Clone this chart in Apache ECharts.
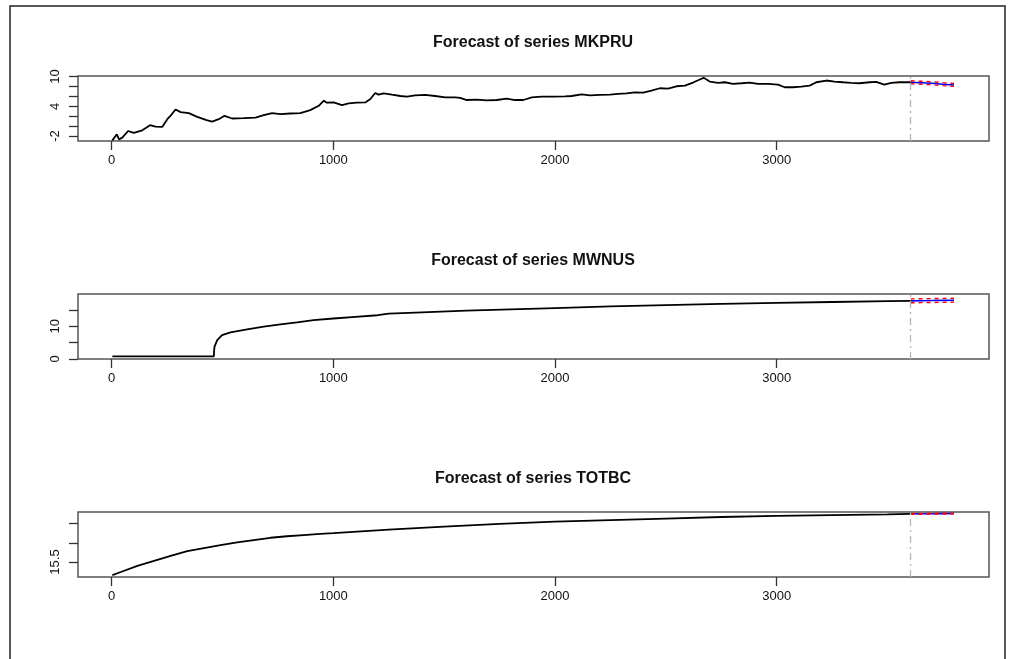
<!DOCTYPE html>
<html>
<head>
<meta charset="utf-8">
<script src="https://cdn.jsdelivr.net/npm/echarts@6/dist/echarts.min.js"></script>
<style>html,body{margin:0;padding:0;background:#fff}#c{width:1014px;height:659px}</style>
</head>
<body>
<div id="c"></div>
<script>
// ---- data ----
const titles = ["Forecast of series MKPRU", "Forecast of series MWNUS", "Forecast of series TOTBC"];
const xTicks = [0, 1000, 2000, 3000];

const mkpruIdx = [3,12,23,33,48,74,100,138,173,198,228,251,269,288,311,348,386,428,453,483,509,543,596,649,686,724,761,806,851,896,934,957,971,1001,1039,1069,1107,1144,1167,1189,1204,1227,1264,1302,1332,1369,1414,1459,1505,1550,1572,1602,1647,1692,1737,1782,1820,1857,1895,1940,1992,2045,2075,2120,2158,2203,2248,2285,2323,2360,2398,2435,2473,2510,2548,2586,2623,2653,2671,2698,2736,2766,2803,2841,2878,2916,2961,3006,3036,3073,3111,3149,3179,3224,3261,3299,3336,3374,3419,3449,3486,3517,3554,3604];
const mkpruVal = [-2.87,-2.6,-1.65,-2.67,-2.33,-0.98,-1.38,-0.84,0.18,-0.10,-0.16,1.40,2.28,3.36,2.82,2.62,1.87,1.20,0.91,1.40,2.07,1.53,1.60,1.73,2.21,2.62,2.42,2.54,2.60,3.23,4.10,5.12,4.72,4.78,4.25,4.58,4.72,4.78,5.46,6.68,6.34,6.61,6.34,6.07,5.93,6.20,6.28,6.07,5.80,5.80,5.67,5.26,5.33,5.18,5.26,5.53,5.26,5.26,5.80,5.93,5.93,6.00,6.07,6.41,6.20,6.28,6.34,6.48,6.61,6.81,6.75,7.15,7.63,7.56,8.03,8.17,8.78,9.39,9.73,8.98,8.72,8.84,8.52,8.64,8.78,8.52,8.52,8.37,7.83,7.83,7.97,8.17,8.84,9.19,8.98,8.84,8.72,8.64,8.84,8.92,8.37,8.72,8.84,8.84];

const mwnusIdx = [3,461,462,464,476,498,536,611,686,761,836,911,1000,1100,1200,1250,1400,1600,1800,2000,2250,2500,2750,3000,3250,3500,3604];
const mwnusVal = [0.82,0.82,2.5,3.77,5.8,7.3,8.15,9.07,9.9,10.6,11.2,11.9,12.4,12.9,13.4,13.9,14.3,14.8,15.2,15.6,16.1,16.5,16.9,17.2,17.45,17.7,17.8];

const totbcIdx = [3,41,116,191,266,341,416,491,566,641,716,791,866,941,1000,1250,1500,1750,2000,2250,2500,2750,3000,3250,3500,3604];
const totbcVal = [15.16,15.24,15.40,15.53,15.66,15.78,15.86,15.94,16.01,16.07,16.13,16.17,16.20,16.23,16.25,16.34,16.42,16.49,16.55,16.59,16.63,16.67,16.70,16.72,16.74,16.75];

const fcIdx = [3604, 3650, 3700, 3750, 3800];
const fc1 = [8.84, 8.75, 8.65, 8.45, 8.30];
const lo1 = [8.54, 8.45, 8.35, 8.15, 8.00];
const hi1 = [9.14, 9.05, 8.95, 8.75, 8.60];
const fc2 = [17.80, 17.85, 17.90, 17.95, 18.00];
const lo2 = [17.20, 17.25, 17.30, 17.35, 17.40];
const hi2 = [18.40, 18.45, 18.50, 18.55, 18.60];
const fc3 = [16.750, 16.753, 16.756, 16.758, 16.760];
const lo3 = [16.740, 16.743, 16.746, 16.748, 16.750];
const hi3 = [16.760, 16.763, 16.766, 16.768, 16.770];

const yRanges = [[-3.0, 10.1], [0, 19.9], [15.11, 16.80]];
const yTickVals = [[-2, 0, 2, 4, 6, 8, 10], [0, 5, 10, 15], [15.5, 16, 16.5]];
const yLabelVals = [[-2, 4, 10], [0, 10], [15.5]];
const lastIdx = 3604;

// ---- chart ----
const pair = (xs, ys) => xs.map((x, i) => [x, ys[i]]);
const gridTops = [76, 294, 512];
const titleTops = [35, 253, 471];
const FONT = "Liberation Sans, Arial, sans-serif";

const grids = gridTops.map(t => ({
  left: 78, right: 25, top: t, height: 65,
  show: true, borderColor: '#555', borderWidth: 1.5, backgroundColor: 'transparent'
}));
const xAxes = gridTops.map((t, i) => ({
  type: 'value', gridIndex: i, min: -152, max: 3958, position: 'bottom',
  axisLine: { show: false, onZero: false },
  splitLine: { show: false },
  axisTick: { show: true, inside: false, customValues: xTicks, length: 9, lineStyle: { color: '#333', width: 1.3 } },
  axisLabel: { customValues: xTicks, margin: 13, fontSize: 13, color: '#111', fontFamily: FONT,
    formatter: v => String(v) }
}));
const yAxes = gridTops.map((t, i) => ({
  type: 'value', gridIndex: i, min: yRanges[i][0], max: yRanges[i][1], position: 'left',
  axisLine: { show: false, onZero: false },
  splitLine: { show: false },
  axisTick: { show: true, inside: false, customValues: yTickVals[i], length: 9, lineStyle: { color: '#333', width: 1.3 } },
  axisLabel: { customValues: yLabelVals[i], rotate: 90, margin: 16, fontSize: 13, color: '#111', fontFamily: FONT,
    formatter: v => String(v) }
}));

const mains = [pair(mkpruIdx, mkpruVal), pair(mwnusIdx, mwnusVal), pair(totbcIdx, totbcVal)];
const fcs = [fc1, fc2, fc3], los = [lo1, lo2, lo3], his = [hi1, hi2, hi3];
const series = [];
for (let i = 0; i < 3; i++) {
  series.push({
    type: 'line', xAxisIndex: i, yAxisIndex: i, data: mains[i], showSymbol: false,
    lineStyle: { color: '#000', width: 1.8 }, animation: false,
    markLine: {
      silent: true, symbol: 'none', label: { show: false },
      lineStyle: { color: '#b5b5b5', width: 1.3, type: [7, 4, 2, 4] },
      data: [{ xAxis: lastIdx }]
    }
  });
  series.push({
    type: 'line', xAxisIndex: i, yAxisIndex: i, data: pair(fcIdx, fcs[i]), showSymbol: false,
    lineStyle: { color: '#0000ff', width: 1.6 }, animation: false
  });
  series.push({
    type: 'line', xAxisIndex: i, yAxisIndex: i, data: pair(fcIdx, los[i]), showSymbol: false,
    lineStyle: { color: '#ff0000', width: 1.4, type: [4, 4] }, animation: false
  });
  series.push({
    type: 'line', xAxisIndex: i, yAxisIndex: i, data: pair(fcIdx, his[i]), showSymbol: false,
    lineStyle: { color: '#ff0000', width: 1.4, type: [4, 4] }, animation: false
  });
}

const chart = echarts.init(document.getElementById('c'), null, { renderer: 'canvas' });
chart.setOption({
  backgroundColor: '#fff',
  animation: false,
  title: titles.map((t, i) => ({
    text: t, left: 533, top: titleTops[i], textAlign: 'center', padding: 0,
    textStyle: { fontSize: 16, fontWeight: 'bold', color: '#111', fontFamily: FONT }
  })),
  graphic: [{
    type: 'rect', silent: true,
    shape: { x: 10, y: 6, width: 995, height: 700 },
    style: { fill: 'none', stroke: '#222', lineWidth: 1.5 }
  }],
  grid: grids,
  xAxis: xAxes,
  yAxis: yAxes,
  series: series
});
</script>
</body>
</html>
